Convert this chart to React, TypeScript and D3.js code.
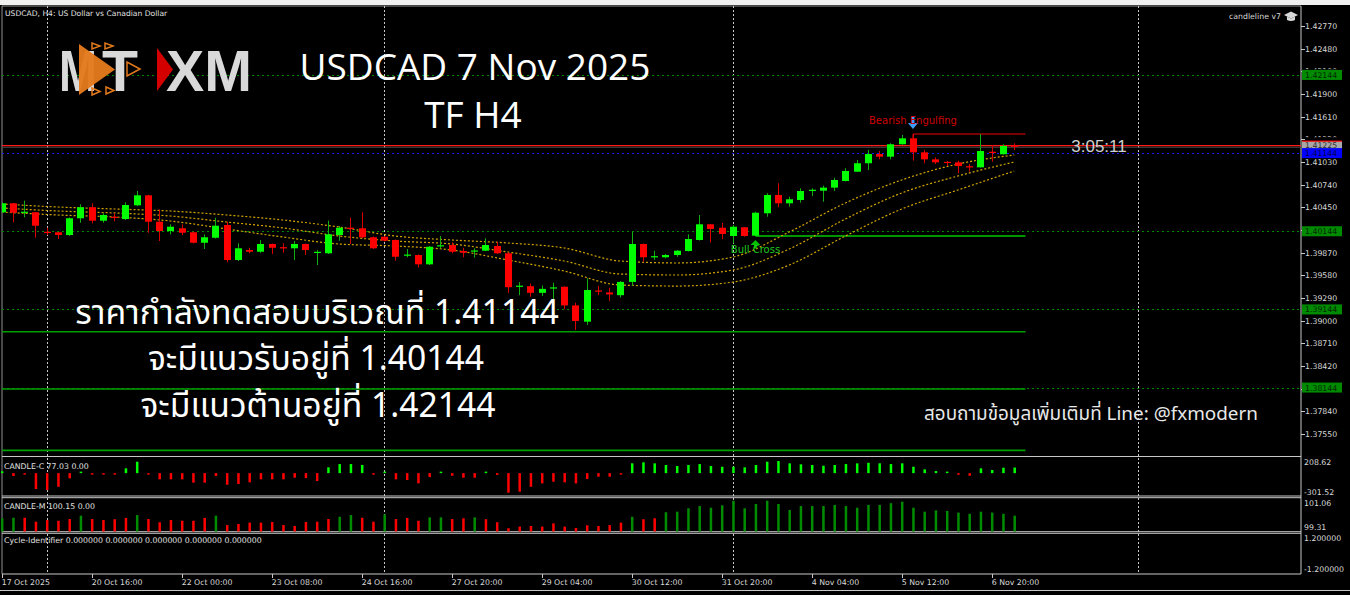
import React from 'react';
import * as d3 from 'd3';

const W = 1350;
const H = 595;

// ---------- OHLC (H4 bars, 17 Oct 2025 12:00 .. 7 Nov 2025 04:00) ----------
const opens = [
  1.40387, 1.40502, 1.40381, 1.40387, 1.40137, 1.40131, 1.40096, 1.40310, 1.40451, 1.40279,
  1.40329, 1.40300, 1.40476, 1.40604, 1.40266, 1.40147, 1.40182, 1.40131, 1.39997, 1.40061,
  1.40224, 1.39776, 1.39904, 1.39882, 1.39981, 1.39940, 1.39926, 1.39981, 1.39868, 1.39862,
  1.40096, 1.40189, 1.40182, 1.40067, 1.40074, 1.40032, 1.39834, 1.39840, 1.39721, 1.39953,
  1.39968, 1.39891, 1.39885, 1.39895, 1.39955, 1.39862, 1.39435, 1.39441, 1.39356, 1.39413,
  1.39434, 1.39195, 1.38987, 1.39386, 1.39361, 1.39326, 1.39496, 1.39981, 1.39812, 1.39811,
  1.39840, 1.39891, 1.40032, 1.40233, 1.40189, 1.40083, 1.40195, 1.40087, 1.40374, 1.40608,
  1.40502, 1.40544, 1.40662, 1.40663, 1.40702, 1.40787, 1.40906, 1.41014, 1.41132, 1.41098,
  1.41257, 1.41333, 1.41154, 1.41064, 1.41032, 1.41026, 1.40976, 1.40962, 1.41161, 1.41129,
  1.41243,
];
const highs = [
  1.40512, 1.40506, 1.40535, 1.40390, 1.40189, 1.40134, 1.40320, 1.40489, 1.40502, 1.40374,
  1.40374, 1.40515, 1.40659, 1.40608, 1.40425, 1.40233, 1.40233, 1.40141, 1.40105, 1.40317,
  1.40266, 1.39990, 1.39933, 1.40032, 1.39987, 1.39990, 1.40019, 1.39987, 1.39904, 1.40279,
  1.40211, 1.40317, 1.40387, 1.40077, 1.40083, 1.40038, 1.39917, 1.39846, 1.39955, 1.40083,
  1.40003, 1.39933, 1.39926, 1.40054, 1.40010, 1.39872, 1.39493, 1.39476, 1.39450, 1.39485,
  1.39438, 1.39230, 1.39542, 1.39446, 1.39421, 1.39505, 1.40138, 1.39987, 1.39895, 1.39853,
  1.39904, 1.40105, 1.40352, 1.40237, 1.40250, 1.40224, 1.40198, 1.40394, 1.40630, 1.40758,
  1.40586, 1.40694, 1.40694, 1.40727, 1.40829, 1.40950, 1.41056, 1.41184, 1.41171, 1.41269,
  1.41376, 1.41389, 1.41184, 1.41090, 1.41043, 1.41047, 1.41004, 1.41385, 1.41248, 1.41257,
  1.41269,
];
const lows = [
  1.40378, 1.40259, 1.40323, 1.40061, 1.40096, 1.40045, 1.40083, 1.40253, 1.40246, 1.40253,
  1.40271, 1.40288, 1.40467, 1.40125, 1.40019, 1.40105, 1.40096, 1.39987, 1.39917, 1.40051,
  1.39747, 1.39763, 1.39862, 1.39869, 1.39853, 1.39869, 1.39776, 1.39840, 1.39712, 1.39853,
  1.40023, 1.39981, 1.40058, 1.39917, 1.40013, 1.39767, 1.39811, 1.39682, 1.39712, 1.39926,
  1.39862, 1.39811, 1.39806, 1.39889, 1.39853, 1.39356, 1.39326, 1.39305, 1.39314, 1.39115,
  1.39146, 1.38881, 1.38945, 1.39326, 1.39254, 1.39297, 1.39442, 1.39754, 1.39776, 1.39798,
  1.39818, 1.39885, 1.40026, 1.39998, 1.40042, 1.39990, 1.40074, 1.40083, 1.40330, 1.40451,
  1.40458, 1.40509, 1.40595, 1.40522, 1.40659, 1.40781, 1.40902, 1.40928, 1.41064, 1.41064,
  1.41254, 1.41047, 1.41013, 1.41004, 1.40979, 1.40885, 1.40906, 1.40959, 1.41034, 1.41126,
  1.41184,
];
const closes = [
  1.40502, 1.40381, 1.40394, 1.40215, 1.40124, 1.40096, 1.40310, 1.40451, 1.40279, 1.40352,
  1.40316, 1.40480, 1.40604, 1.40266, 1.40147, 1.40202, 1.40125, 1.39997, 1.40067, 1.40215,
  1.39776, 1.39926, 1.39882, 1.39981, 1.39933, 1.39927, 1.39981, 1.39904, 1.39881, 1.40105,
  1.40189, 1.40173, 1.40067, 1.39926, 1.40023, 1.39818, 1.39846, 1.39721, 1.39946, 1.39965,
  1.39882, 1.39869, 1.39898, 1.39968, 1.39862, 1.39428, 1.39448, 1.39356, 1.39407, 1.39426,
  1.39195, 1.38996, 1.39392, 1.39373, 1.39336, 1.39496, 1.39981, 1.39811, 1.39825, 1.39840,
  1.39895, 1.40045, 1.40233, 1.40173, 1.40109, 1.40202, 1.40083, 1.40381, 1.40608, 1.40502,
  1.40553, 1.40659, 1.40675, 1.40702, 1.40800, 1.40915, 1.41014, 1.41132, 1.41098, 1.41257,
  1.41333, 1.41154, 1.41064, 1.41026, 1.41019, 1.40979, 1.40963, 1.41171, 1.41148, 1.41235,
  1.41225,
];

// ---------- moving-average envelope (read at sample bars) ----------
const maBars = [0, 5, 10, 15, 20, 25, 30, 35, 40, 45, 50, 55, 60, 65, 70, 75, 80, 85, 90];
const maUpper = [1.40493, 1.40454, 1.40429, 1.40403, 1.40352, 1.40288, 1.40198, 1.40083, 1.40032, 1.39994, 1.39930, 1.39763, 1.39738, 1.39814, 1.40134, 1.40506, 1.40800, 1.41004, 1.41120];
const maMiddle = [1.40442, 1.40403, 1.40378, 1.40339, 1.40262, 1.40186, 1.40083, 1.40019, 1.39981, 1.39878, 1.39763, 1.39597, 1.39584, 1.39648, 1.39917, 1.40301, 1.40634, 1.40851, 1.41030];
const maLower = [1.40390, 1.40352, 1.40327, 1.40275, 1.40173, 1.40070, 1.39981, 1.39955, 1.39904, 1.39776, 1.39635, 1.39456, 1.39443, 1.39494, 1.39712, 1.40083, 1.40429, 1.40672, 1.40915];

// ---------- CANDLE-C oscillator ----------
const candleC = [
  25, -40, -8, -219, -233, -188, -72, 20, -8, -8,
  -8, 66, 157, -5, -86, -86, -86, -132, -132, -40,
  -160, -150, -127, -86, -86, -86, -63, -68, -109, 80,
  125, 125, 112, -5, 20, -86, -95, -141, -54, 12,
  -36, -63, -63, 8, -25, -270, -256, -188, -141, -118,
  -127, -141, -82, -49, -49, -15, 135, 149, 135, 112,
  98, 112, 125, 98, 88, 88, 80, 112, 157, 167,
  135, 121, 112, 102, 112, 125, 135, 143, 135, 125,
  135, 88, 52, 29, 15, -22, -36, 66, 43, 75,
  77.03,
];

// ---------- CANDLE-M ----------
const candleM = [
  100.00, 100.04, 100.04, 99.83, 99.92, 99.88, 99.97, 100.15, 99.97, 99.92,
  99.96, 100.03, 100.18, 99.97, 99.80, 99.92, 99.88, 99.88, 100.03, 100.15,
  99.65, 99.71, 99.78, 99.78, 99.81, 99.65, 99.60, 99.81, 99.83, 99.97,
  100.09, 100.18, 100.04, 99.83, 100.22, 99.97, 100.03, 99.88, 100.06, 100.06,
  99.97, 100.01, 100.06, 99.96, 99.80, 99.48, 99.57, 99.60, 99.57, 99.74,
  99.57, 99.50, 99.64, 99.60, 99.65, 99.78, 100.09, 99.96, 100.01, 100.33,
  100.36, 100.54, 100.66, 100.57, 100.70, 100.94, 100.54, 100.77, 100.94, 100.77,
  100.45, 100.66, 100.66, 100.66, 100.72, 100.66, 100.57, 100.72, 100.72, 100.81,
  100.89, 100.57, 100.36, 100.43, 100.40, 100.31, 100.25, 100.36, 100.31, 100.25,
  100.15,
];
const candleMUp = [
  1, 1, 0, 0, 0, 0, 0, 1, 0, 0,
  0, 0, 1, 0, 0, 0, 0, 0, 0, 1,
  0, 0, 0, 0, 0, 0, 0, 0, 0, 0,
  1, 1, 0, 0, 1, 0, 0, 0, 1, 1,
  0, 0, 1, 0, 0, 0, 0, 0, 0, 0,
  0, 0, 0, 0, 0, 0, 1, 0, 0, 1,
  1, 1, 1, 1, 1, 1, 1, 1, 1, 1,
  1, 1, 1, 1, 1, 1, 1, 1, 1, 1,
  1, 1, 1, 1, 1, 1, 1, 1, 1, 1,
  1,
];

// ---------- axes ----------
const priceTicks = [1.42770, 1.42480, 1.42190, 1.41900, 1.41610, 1.41320, 1.41030, 1.40740, 1.40450, 1.40160, 1.39870, 1.39580, 1.39290, 1.39000, 1.38710, 1.38420, 1.38130, 1.37840, 1.37550];
const timeLabels = ['17 Oct 2025', '20 Oct 16:00', '22 Oct 00:00', '23 Oct 08:00', '24 Oct 16:00', '27 Oct 20:00', '29 Oct 04:00', '30 Oct 12:00', '31 Oct 20:00', '4 Nov 04:00', '5 Nov 12:00', '6 Nov 20:00'];
const timeLabelBars = [0, 8, 16, 24, 32, 40, 48, 56, 64, 72, 80, 88];
const gridBars = [4, 34, 65, 101];

// ---------- levels ----------
const greenLevels = [1.42144, 1.40144, 1.39144, 1.38144];
const blueLevel = 1.41144;
const supportLines = [1.38859, 1.38126, 1.37341];
const bidPrice = 1.41225;
const askPrice = 1.41240;
const bullCrossBar = 67;
const bullCrossPrice = 1.40083;
const bearEngBar = 81;
const lineEndBar = 91;

const cPanelLabels = ['208.62', '-301.52'];
const cDomain = [-301.52, 208.62];
const mDomain = [99.31, 101.06];
const cycLabels = ['1.200000', '-1.200000'];

const uiFont = "'DejaVu Sans', Verdana, sans-serif";
const bigFont = "'Open Sans', 'Noto Sans', 'Noto Sans Thai', sans-serif";
const thaiFont = "'Noto Sans Thai', 'Noto Sans Thai UI', 'Noto Sans', 'Open Sans', sans-serif";

export default function App() {
  const left = 2;
  const right = 1301;
  const mainTop = 6;
  const mainBottom = 456.5;

  const xS = d3.scaleLinear().domain([0, 90]).range([1.7, 1014.2]);
  const yS = d3.scaleLinear().domain([1.37550, 1.42770]).range([434, 26]);
  const yC = d3.scaleLinear().domain(cDomain).range([495, 458]);
  const yM = d3.scaleLinear().domain(mDomain).range([531.5, 498.5]);

  const maPath = (vals: number[]) =>
    d3.line<number>()
      .x((_, i) => xS(maBars[i]))
      .y((d) => yS(d))
      .curve(d3.curveMonotoneX)(vals) || '';

  const px = (v: number) => Math.round(v) + 0.5;

  const bodyW = 7;
  const barW = 2.5;

  // tick labels hidden behind the level boxes are only partly visible
  const boxPrices = [...greenLevels, blueLevel, bidPrice, askPrice];
  const hiddenTick = (p: number) => boxPrices.some((b) => Math.abs(yS(b) - yS(p)) < 7);

  return (
    <svg width={W} height={H} style={{ position: 'absolute', left: 0, top: 0, background: '#000' }}>
      <defs>
        <clipPath id="mainClip">
          <rect x={left} y={mainTop} width={right - left} height={mainBottom - mainTop} />
        </clipPath>
      </defs>
      <rect x={0} y={0} width={W} height={H} fill="#000" />
      <rect x={0} y={0} width={W} height={5} fill="#f0f0f0" />

      {/* frame */}
      <line x1={left} x2={right} y1={mainTop} y2={mainTop} stroke="#909090" />
      <line x1={left} x2={left} y1={mainTop} y2={574} stroke="#909090" />
      <line x1={right} x2={right} y1={mainTop} y2={574} stroke="#c8c8c8" />
      {[456.5, 496, 497.7, 531.7, 533.3, 574].map((y, i) => (
        <line key={'b' + i} x1={left} x2={right} y1={y} y2={y} stroke="#c8c8c8" />
      ))}

      {/* vertical grid */}
      {gridBars.map((b, i) => (
        <line key={'g' + i} x1={px(xS(b))} x2={px(xS(b))} y1={mainTop} y2={574} stroke="#c8c8c8" strokeDasharray="2,2" />
      ))}

      <g clipPath="url(#mainClip)">
        {/* dotted levels */}
        {greenLevels.map((p, i) => (
          <line key={'gl' + i} x1={left} x2={right} y1={px(yS(p))} y2={px(yS(p))} stroke="#008a00" strokeDasharray="2,3" />
        ))}
        <line x1={left} x2={right} y1={px(yS(blueLevel))} y2={px(yS(blueLevel))} stroke="#1a1aff" strokeDasharray="2,3" />

        {/* support lines */}
        {supportLines.map((p, i) => (
          <line key={'sl' + i} x1={left} x2={xS(lineEndBar)} y1={yS(p)} y2={yS(p)} stroke="#00a000" strokeWidth={1.6} />
        ))}
        <line x1={xS(bullCrossBar)} x2={xS(lineEndBar)} y1={yS(bullCrossPrice)} y2={yS(bullCrossPrice)} stroke="#00c800" strokeWidth={1.3} />
        <line x1={xS(bearEngBar)} x2={xS(lineEndBar)} y1={yS(highs[bearEngBar])} y2={yS(highs[bearEngBar])} stroke="#a00000" strokeWidth={1.5} />
        <line x1={xS(bearEngBar)} x2={xS(bearEngBar)} y1={yS(highs[bearEngBar])} y2={yS(opens[bearEngBar])} stroke="#a00000" strokeWidth={1.5} />

        {/* bid / ask */}
        <line x1={left} x2={right} y1={yS(bidPrice) + 0.5} y2={yS(bidPrice) + 0.5} stroke="#4a4a4a" strokeWidth={1} />
        <line x1={left} x2={right} y1={yS(askPrice)} y2={yS(askPrice)} stroke="#ff1a1a" strokeWidth={1.3} />

        {/* moving averages */}
        {[maUpper, maMiddle, maLower].map((vals, i) => (
          <path key={'ma' + i} d={maPath(vals)} fill="none" stroke="#d2a400" strokeWidth={1.2} strokeDasharray="2,2" />
        ))}

        {/* candles */}
        {opens.map((o, i) => {
          const c = closes[i];
          const up = c >= o;
          const x = Math.round(xS(i));
          const yTop = yS(Math.max(o, c));
          const yBot = yS(Math.min(o, c));
          const h = Math.max(1.2, yBot - yTop);
          return (
            <g key={'c' + i}>
              <line x1={x + 0.5} x2={x + 0.5} y1={yS(highs[i])} y2={yS(lows[i])} stroke={up ? '#10b010' : '#d80000'} strokeWidth={1} />
              <rect x={x + 0.5 - bodyW / 2} y={yTop} width={bodyW} height={h} fill={up ? '#00ff00' : '#ff0000'} />
            </g>
          );
        })}

        {/* pattern markers */}
        <g fill="#3d9eff">
          <rect x={xS(bearEngBar) - 1.5} y={yS(highs[bearEngBar]) - 17} width={3} height={7} />
          <path d={`M${xS(bearEngBar) - 5},${yS(highs[bearEngBar]) - 11} L${xS(bearEngBar) + 5},${yS(highs[bearEngBar]) - 11} L${xS(bearEngBar)},${yS(highs[bearEngBar]) - 5} Z`} />
        </g>
        <text x={xS(bearEngBar)} y={yS(highs[bearEngBar]) - 9.5} textAnchor="middle" fontFamily={uiFont} fontSize={10} fill="#d00000">Bearish Engulfing</text>
        <g fill="#00c000">
          <path d={`M${xS(bullCrossBar) - 5},${yS(bullCrossPrice) + 9} L${xS(bullCrossBar) + 5},${yS(bullCrossPrice) + 9} L${xS(bullCrossBar)},${yS(bullCrossPrice) + 4} Z`} />
          <rect x={xS(bullCrossBar) - 1.5} y={yS(bullCrossPrice) + 8.5} width={3} height={4} />
        </g>
        <text x={xS(bullCrossBar)} y={yS(bullCrossPrice) + 17} textAnchor="middle" fontFamily={uiFont} fontSize={10} fill="#1ec81e">Bull Cross</text>
      </g>

      {/* header */}
      <text x={5} y={16} fontFamily={uiFont} fontSize={7.6} fill="#e0e0e0">USDCAD, H4:  US Dollar vs Canadian Dollar</text>
      <text x={1281} y={19} textAnchor="end" fontFamily={uiFont} fontSize={7.8} fill="#d8d8d8">candleline v7</text>
      <g fill="#d8d8d8">
        <path d="M1284,15 L1291,11.5 L1298,15 L1291,18.5 Z" />
        <path d="M1287,16.5 L1287,20 Q1291,22 1295,20 L1295,16.5 L1291,18.5 Z" />
      </g>

      {/* logo */}
      <g>
        <text x={59} y={91} fontFamily="'Liberation Sans', Arial, sans-serif" fontWeight="bold" fontSize={58} fill="#d9d9d9" textLength={38} lengthAdjust="spacingAndGlyphs">M</text>
        <text x={102} y={91} fontFamily="'Liberation Sans', Arial, sans-serif" fontWeight="bold" fontSize={58} fill="#d9d9d9" textLength={36} lengthAdjust="spacingAndGlyphs">T</text>
        <path d="M79,44 L79,95 L115,69.5 Z" fill="#e47a1c" opacity={0.96} />
        <g fill="none" stroke="#e47a1c" strokeWidth={1.5}>
          <path d="M92,43 L92,49 L100,46 Z" />
          <path d="M105,43 L105,49 L113,46 Z" />
          <path d="M92,88 L92,95 L100,91.5 Z" />
          <path d="M106,87 L106,94 L114,90.5 Z" />
          <path d="M127,62 L127,76 L140,69 Z" />
        </g>
        <path d="M157,48 L157,91 L173,69.5 Z" fill="#d40000" />
        <text x={166} y={91} fontFamily="'Liberation Sans', Arial, sans-serif" fontWeight="bold" fontSize={58} fill="#d9d9d9" textLength={86} lengthAdjust="spacingAndGlyphs">XM</text>
      </g>

      {/* titles */}
      <text x={475} y={80} textAnchor="middle" fontFamily={bigFont} fontSize={37} fill="#ffffff">USDCAD 7 Nov 2025</text>
      <text x={473} y={128} textAnchor="middle" fontFamily={bigFont} fontSize={37} fill="#ffffff">TF H4</text>

      <text x={317} y={323.5} textAnchor="middle" fontFamily={thaiFont} fontSize={33.7} fill="#ffffff">ราคากำลังทดสอบบริเวณที่ 1.41144</text>
      <text x={316} y={370} textAnchor="middle" fontFamily={thaiFont} fontSize={33.7} fill="#ffffff">จะมีแนวรับอยู่ที่ 1.40144</text>
      <text x={318} y={417} textAnchor="middle" fontFamily={thaiFont} fontSize={33.7} fill="#ffffff">จะมีแนวต้านอยู่ที่ 1.42144</text>
      <text x={1091} y={420} textAnchor="middle" fontFamily={thaiFont} fontSize={18.9} fill="#e8e8e8">สอบถามข้อมูลเพิ่มเติมที่ Line: @fxmodern</text>

      <text x={1099} y={152} textAnchor="middle" fontFamily="'Liberation Sans', Arial, sans-serif" fontSize={17} fill="#d0d0d0">3:05:11</text>

      {/* right price axis */}
      {priceTicks.map((p, i) => (
        <g key={'pt' + i}>
          <line x1={right} x2={right + 4} y1={px(yS(p))} y2={px(yS(p))} stroke="#c8c8c8" />
          {hiddenTick(p) ? (
            <svg x={right + 3} y={yS(p) - 5} width={40} height={3} overflow="hidden">
              <text x={1} y={8} fontFamily={uiFont} fontSize={7.8} fill="#d8d8d8">{p.toFixed(5)}</text>
            </svg>
          ) : (
            <text x={right + 4} y={yS(p) + 3} fontFamily={uiFont} fontSize={7.8} fill="#d8d8d8">{p.toFixed(5)}</text>
          )}
        </g>
      ))}
      {greenLevels.map((p, i) => (
        <g key={'gb' + i}>
          <rect x={right + 1} y={yS(p) - 5} width={40} height={10} fill="#008a00" />
          <text x={right + 4} y={yS(p) + 3} fontFamily={uiFont} fontSize={7.8} fill="#002800">{p.toFixed(5)}</text>
        </g>
      ))}
      <rect x={right + 1} y={yS(askPrice) - 5} width={40} height={10} fill="#ff0000" />
      <rect x={right + 1} y={yS(bidPrice) - 5} width={40} height={10} fill="#a8a8a8" />
      <text x={right + 4} y={yS(bidPrice) + 1.5} fontFamily={uiFont} fontSize={7.8} fill="#303030">{bidPrice.toFixed(5)}</text>
      <rect x={right + 1} y={yS(blueLevel) - 5} width={40} height={10} fill="#0000ff" />
      <text x={right + 4} y={yS(blueLevel) + 3} fontFamily={uiFont} fontSize={7.8} fill="#000050">{blueLevel.toFixed(5)}</text>

      {/* CANDLE-C */}
      <text x={4} y={468.5} fontFamily={uiFont} fontSize={7.8} fill="#e0e0e0">CANDLE-C 77.03 0.00</text>
      {candleC.map((v, i) => {
        const y0 = yC(0);
        const y1 = yC(v);
        const top = Math.min(y0, y1);
        const h = Math.max(1.5, Math.abs(y1 - y0));
        return <rect key={'cc' + i} x={xS(i) + 0.5 - barW / 2} y={v >= 0 ? y0 - h : top} width={barW} height={h} fill={v >= 0 ? '#00ff00' : '#ff0000'} />;
      })}
      <text x={right + 3} y={yC(cDomain[1]) + 7} fontFamily={uiFont} fontSize={7.8} fill="#d8d8d8">{cPanelLabels[0]}</text>
      <text x={right + 3} y={yC(cDomain[0]) - 0.5} fontFamily={uiFont} fontSize={7.8} fill="#d8d8d8">{cPanelLabels[1]}</text>

      {/* CANDLE-M */}
      <text x={4} y={508.5} fontFamily={uiFont} fontSize={7.8} fill="#e0e0e0">CANDLE-M 100.15 0.00</text>
      {candleM.map((v, i) => (
        <rect key={'cm' + i} x={xS(i) + 0.5 - barW / 2} y={yM(v)} width={barW} height={yM(mDomain[0]) - yM(v)} fill={candleMUp[i] ? '#008c00' : '#ff0000'} />
      ))}
      <text x={right + 3} y={yM(mDomain[1]) + 7} fontFamily={uiFont} fontSize={7.8} fill="#d8d8d8">{mDomain[1].toFixed(2)}</text>
      <text x={right + 3} y={yM(mDomain[0]) - 1.5} fontFamily={uiFont} fontSize={7.8} fill="#d8d8d8">{mDomain[0].toFixed(2)}</text>

      {/* Cycle identifier */}
      <text x={4} y={543} fontFamily={uiFont} fontSize={7.8} fill="#e0e0e0">Cycle-Identifier 0.000000 0.000000 0.000000 0.000000 0.000000</text>
      <text x={right + 3} y={541} fontFamily={uiFont} fontSize={7.8} fill="#d8d8d8">{cycLabels[0]}</text>
      <text x={right + 3} y={572} fontFamily={uiFont} fontSize={7.8} fill="#d8d8d8">{cycLabels[1]}</text>

      {/* time axis */}
      {timeLabelBars.map((b, i) => (
        <g key={'tl' + i}>
          <line x1={px(xS(b))} x2={px(xS(b))} y1={574} y2={578} stroke="#c8c8c8" />
          <text x={xS(b)} y={585} fontFamily={uiFont} fontSize={7.8} fill="#d8d8d8">{timeLabels[i]}</text>
        </g>
      ))}
      <line x1={0} x2={W} y1={590.5} y2={590.5} stroke="#c8c8c8" />
    </svg>
  );
}
